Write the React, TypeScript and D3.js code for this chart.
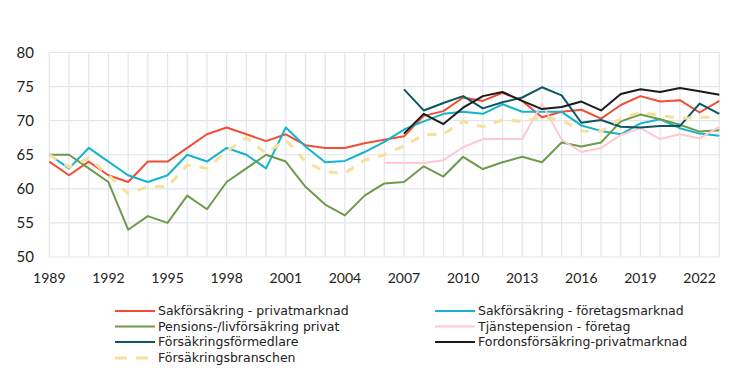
import React from 'react';
import * as d3 from 'd3';

// Years 1989–2023
const years = d3.range(1989, 2024);
const xTicks = [1989, 1992, 1995, 1998, 2001, 2004, 2007, 2010, 2013, 2016, 2019, 2022];
const yTicks = [50, 55, 60, 65, 70, 75, 80];

// values from 1989 unless a start year is given
const sakPrivat = [64, 62, 64, 62, 61, 64, 64, 66, 68, 69, 68, 67, 68, 66.4, 66, 66, 66.7, 67.2, 67.7, 70.7, 71.4, 73.4, 72.9, 74.1, 72.9, 70.5, 71.3, 71.6, 70.3, 72.3, 73.6, 72.8, 73, 71.2, 72.9];
const sakForetag = [65, 63, 66, 64, 62, 61, 62, 65, 64, 66, 65, 63, 69, 66.2, 63.9, 64.1, 65.4, 66.9, 68.7, 69.9, 71, 71.3, 71, 72.4, 71.3, 71.3, 71.3, 69.3, 68.5, 68, 69.6, 70.2, 68.9, 68.1, 67.8];
const pension = [65, 65, 63, 61, 54, 56, 55, 59, 57, 61, 63, 65, 64, 60.3, 57.7, 56.1, 59, 60.8, 61, 63.3, 61.8, 64.7, 62.9, 63.9, 64.7, 63.9, 66.8, 66.2, 66.8, 69.9, 70.9, 70.2, 69.4, 68.4, 68.6];
// from 2006
const tjanste = [63.8, 63.8, 63.8, 64.2, 66.1, 67.3, 67.3, 67.3, 72.5, 67.2, 65.4, 66, 67.9, 68.9, 67.3, 68, 67.4, 69.1];
// from 2007
const formedlare = [74.6, 71.5, 72.6, 73.6, 71.8, 72.7, 73.4, 74.9, 73.7, 69.7, 70.1, 69.1, 69, 69.2, 69.2, 72.5, 71];
const fordon = [68.1, 71, 69.5, 71.9, 73.6, 74.2, 72.9, 71.7, 72, 72.8, 71.5, 73.9, 74.6, 74.2, 74.8, 74.3, 73.8];
// from 1989
const branschen = [65, 63.2, 64.5, 62, 59.3, 60.3, 60.3, 63.5, 63, 65.5, 67.5, 65.2, 67.2, 64, 62.5, 62.3, 64.2, 65, 66.3, 67.9, 68, 69.9, 69.1, 70.1, 69.9, 70.5, 70.1, 68.5, 68.4, 70.3, 71.2, 70.8, 70.3, 70.5, 70.5];

const series = [
  { name: 'Sakförsäkring - privatmarknad', start: 1989, values: sakPrivat, color: '#f04e37', dash: false, col: 0, row: 0 },
  { name: 'Sakförsäkring - företagsmarknad', start: 1989, values: sakForetag, color: '#14b4cc', dash: false, col: 1, row: 0 },
  { name: 'Pensions-/livförsäkring privat', start: 1989, values: pension, color: '#6c9b4c', dash: false, col: 0, row: 1 },
  { name: 'Tjänstepension - företag', start: 2006, values: tjanste, color: '#ffc8cf', dash: false, col: 1, row: 1 },
  { name: 'Försäkringsförmedlare', start: 2007, values: formedlare, color: '#0b5862', dash: false, col: 0, row: 2 },
  { name: 'Fordonsförsäkring-privatmarknad', start: 2007, values: fordon, color: '#1c1a1a', dash: false, col: 1, row: 2 },
  { name: 'Försäkringsbranschen', start: 1989, values: branschen, color: '#f4e19c', dash: true, col: 0, row: 3 },
];

const W = 746;
const H = 368;
const x = d3.scaleLinear().domain([1989, 2023]).range([49.3, 719.3]);
const y = d3.scaleLinear().domain([50, 80]).range([257, 52.5]);
const font = 'Lato, "Noto Sans", sans-serif';
const legendFont = '"DejaVu Sans", sans-serif';

export default function App() {
  const line = d3.line<[number, number]>()
    .x(d => x(d[0]))
    .y(d => y(d[1]));

  const legendX = [115, 435];
  const legendY = [311, 326.5, 342, 358];

  return (
    <svg width={W} height={H} style={{ position: 'absolute', left: 0, top: 0, background: '#fff' }}>
      {/* grid */}
      {years.map(yr => (
        <line key={'v' + yr} x1={x(yr)} x2={x(yr)} y1={y(80)} y2={y(50)} stroke="#e2e5eb" strokeWidth={1.2} />
      ))}
      {yTicks.map(t => (
        <line key={'h' + t} x1={x(1989)} x2={x(2023)} y1={y(t)} y2={y(t)} stroke="#e2e5eb" strokeWidth={1.2} />
      ))}
      {/* y labels */}
      {yTicks.map(t => (
        <text key={'yl' + t} x={34} y={y(t)} dy="0.35em" textAnchor="end" fontFamily={font} fontSize={15} fill="#222">{t}</text>
      ))}
      {/* x labels */}
      {xTicks.map(t => (
        <text key={'xl' + t} x={x(t)} y={278} dy="0.35em" textAnchor="middle" fontFamily={font} fontSize={14} fill="#222">{t}</text>
      ))}
      {/* lines */}
      {series.map(s => (
        <path
          key={s.name}
          d={line(s.values.map((v, i) => [s.start + i, v] as [number, number])) || ''}
          fill="none"
          stroke={s.color}
          strokeWidth={s.dash ? 3 : 2}
          strokeDasharray={s.dash ? '9 9' : undefined}
          strokeLinejoin="round"
        />
      ))}
      {/* legend */}
      {series.map(s => (
        <g key={'lg' + s.name} transform={`translate(${legendX[s.col]},${legendY[s.row]})`}>
          <line x1={0} x2={s.dash ? 33 : 40} y1={0} y2={0} stroke={s.color} strokeWidth={s.dash ? 3 : 2} strokeDasharray={s.dash ? '12 9' : undefined} />
          <text x={43} y={0} dy="0.35em" fontFamily={legendFont} fontSize={12.5} fill="#222">{s.name}</text>
        </g>
      ))}
    </svg>
  );
}
